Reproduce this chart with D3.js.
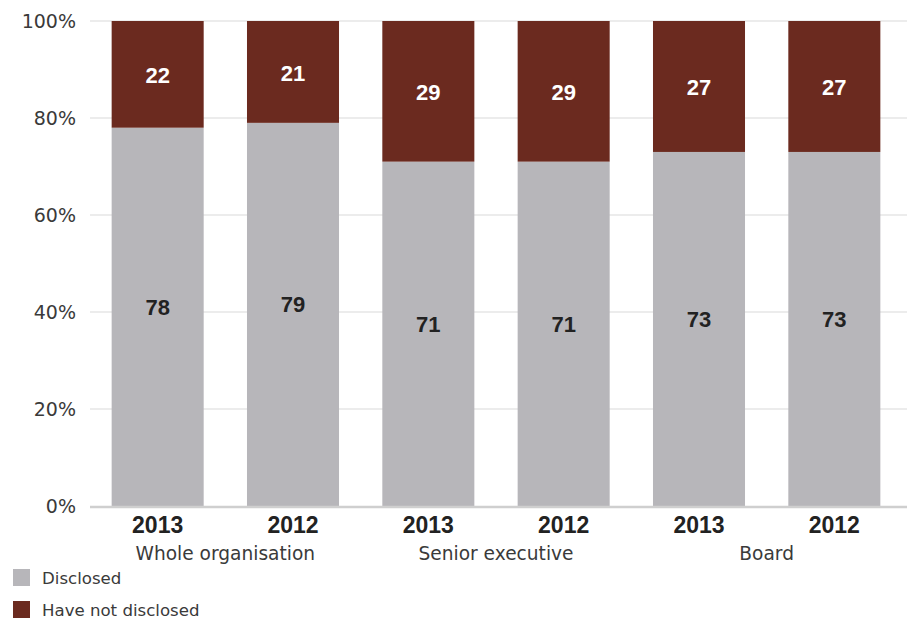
<!DOCTYPE html>
<html>
<head>
<meta charset="utf-8">
<script src="https://cdn.jsdelivr.net/npm/d3@7/dist/d3.min.js"></script>
<style>
  html, body { margin: 0; padding: 0; background: #fff; }
  svg { display: block; font-family: "DejaVu Sans", "Liberation Sans", Arial, sans-serif; }
  .bold { font-family: "Liberation Sans", Arial, Helvetica, sans-serif; font-weight: bold; }
</style>
</head>
<body>
<svg id="chart" width="907" height="621"></svg>
<script>
// Disclosure of gender data, by level, 2013 vs 2012
const groups = ["Whole organisation", "Senior executive", "Board"];
const years = ["2013", "2012"];
const disclosed = [78, 79, 71, 71, 73, 73];
const notDisclosed = [22, 21, 29, 29, 27, 27];
const yTicks = [0, 20, 40, 60, 80, 100];
const seriesNames = ["Disclosed", "Have not disclosed"];
const seriesColors = ["#b7b6ba", "#6b2a1f"];

const rows = [];
groups.forEach((g, gi) => years.forEach((yr, yi) => {
  const i = gi * years.length + yi;
  rows.push({ key: g + "|" + yr, group: g, year: yr, disclosed: disclosed[i], notDisclosed: notDisclosed[i] });
}));

const svg = d3.select("#chart");
const plotLeft = 90, plotRight = 902, plotTop = 21, plotBottom = 506;

const x = d3.scaleBand()
  .domain(rows.map(d => d.key))
  .range([plotLeft, plotRight])
  .paddingInner(0.32)
  .paddingOuter(0.16);

const y = d3.scaleLinear().domain([0, 100]).range([plotBottom, plotTop]);

// gridlines
svg.append("g")
  .selectAll("line")
  .data(yTicks.filter(t => t > 0))
  .join("line")
  .attr("x1", plotLeft).attr("x2", 907)
  .attr("y1", d => y(d)).attr("y2", d => y(d))
  .attr("stroke", "#e6e6e6").attr("stroke-width", 1.5);

// y axis labels
svg.append("g")
  .selectAll("text")
  .data(yTicks)
  .join("text")
  .attr("x", 76)
  .attr("y", d => y(d))
  .attr("dy", "0.36em")
  .attr("text-anchor", "end")
  .attr("font-size", 19)
  .attr("fill", "#3a3a3a")
  .text(d => d + "%");

const stack = d3.stack().keys(["disclosed", "notDisclosed"])(rows);

svg.append("g")
  .selectAll("g")
  .data(stack)
  .join("g")
  .attr("fill", (d, i) => seriesColors[i])
  .selectAll("rect")
  .data(d => d)
  .join("rect")
  .attr("x", d => x(d.data.key))
  .attr("width", x.bandwidth())
  .attr("y", d => y(d[1]))
  .attr("height", d => y(d[0]) - y(d[1]));

// baseline
svg.append("line")
  .attr("x1", plotLeft).attr("x2", 907)
  .attr("y1", plotBottom + 1).attr("y2", plotBottom + 1)
  .attr("stroke", "#cfcfcf").attr("stroke-width", 2.5);

// value labels
svg.append("g")
  .selectAll("text")
  .data(rows)
  .join("text")
  .attr("class", "bold")
  .attr("x", d => x(d.key) + x.bandwidth() / 2)
  .attr("y", d => (y(0) + y(d.disclosed)) / 2 - 10)
  .attr("dy", "0.36em")
  .attr("text-anchor", "middle")
  .attr("font-size", 22)
  .attr("fill", "#222")
  .text(d => d.disclosed);

svg.append("g")
  .selectAll("text")
  .data(rows)
  .join("text")
  .attr("class", "bold")
  .attr("x", d => x(d.key) + x.bandwidth() / 2)
  .attr("y", d => (y(d.disclosed) + y(100)) / 2 + 1)
  .attr("dy", "0.36em")
  .attr("text-anchor", "middle")
  .attr("font-size", 22)
  .attr("fill", "#fff")
  .text(d => d.notDisclosed);

// year labels
svg.append("g")
  .selectAll("text")
  .data(rows)
  .join("text")
  .attr("class", "bold")
  .attr("x", d => x(d.key) + x.bandwidth() / 2)
  .attr("y", 533)
  .attr("text-anchor", "middle")
  .attr("font-size", 23)
  .attr("fill", "#222")
  .text(d => d.year);

// group labels
svg.append("g")
  .selectAll("text")
  .data(groups)
  .join("text")
  .attr("x", g => {
    const a = x(g + "|" + years[0]), b = x(g + "|" + years[years.length - 1]);
    return (a + b + x.bandwidth()) / 2;
  })
  .attr("y", 560)
  .attr("text-anchor", "middle")
  .attr("font-size", 18.6)
  .attr("fill", "#3a3a3a")
  .text(g => g);

// legend
const legend = svg.append("g")
  .selectAll("g")
  .data(seriesNames)
  .join("g")
  .attr("transform", (d, i) => `translate(13, ${569 + i * 32})`);
legend.append("rect")
  .attr("width", 17).attr("height", 17)
  .attr("fill", (d, i) => seriesColors[i]);
legend.append("text")
  .attr("x", 29).attr("y", 9)
  .attr("dy", "0.36em")
  .attr("font-size", 16.6)
  .attr("fill", "#3a3a3a")
  .text(d => d);
</script>
</body>
</html>
